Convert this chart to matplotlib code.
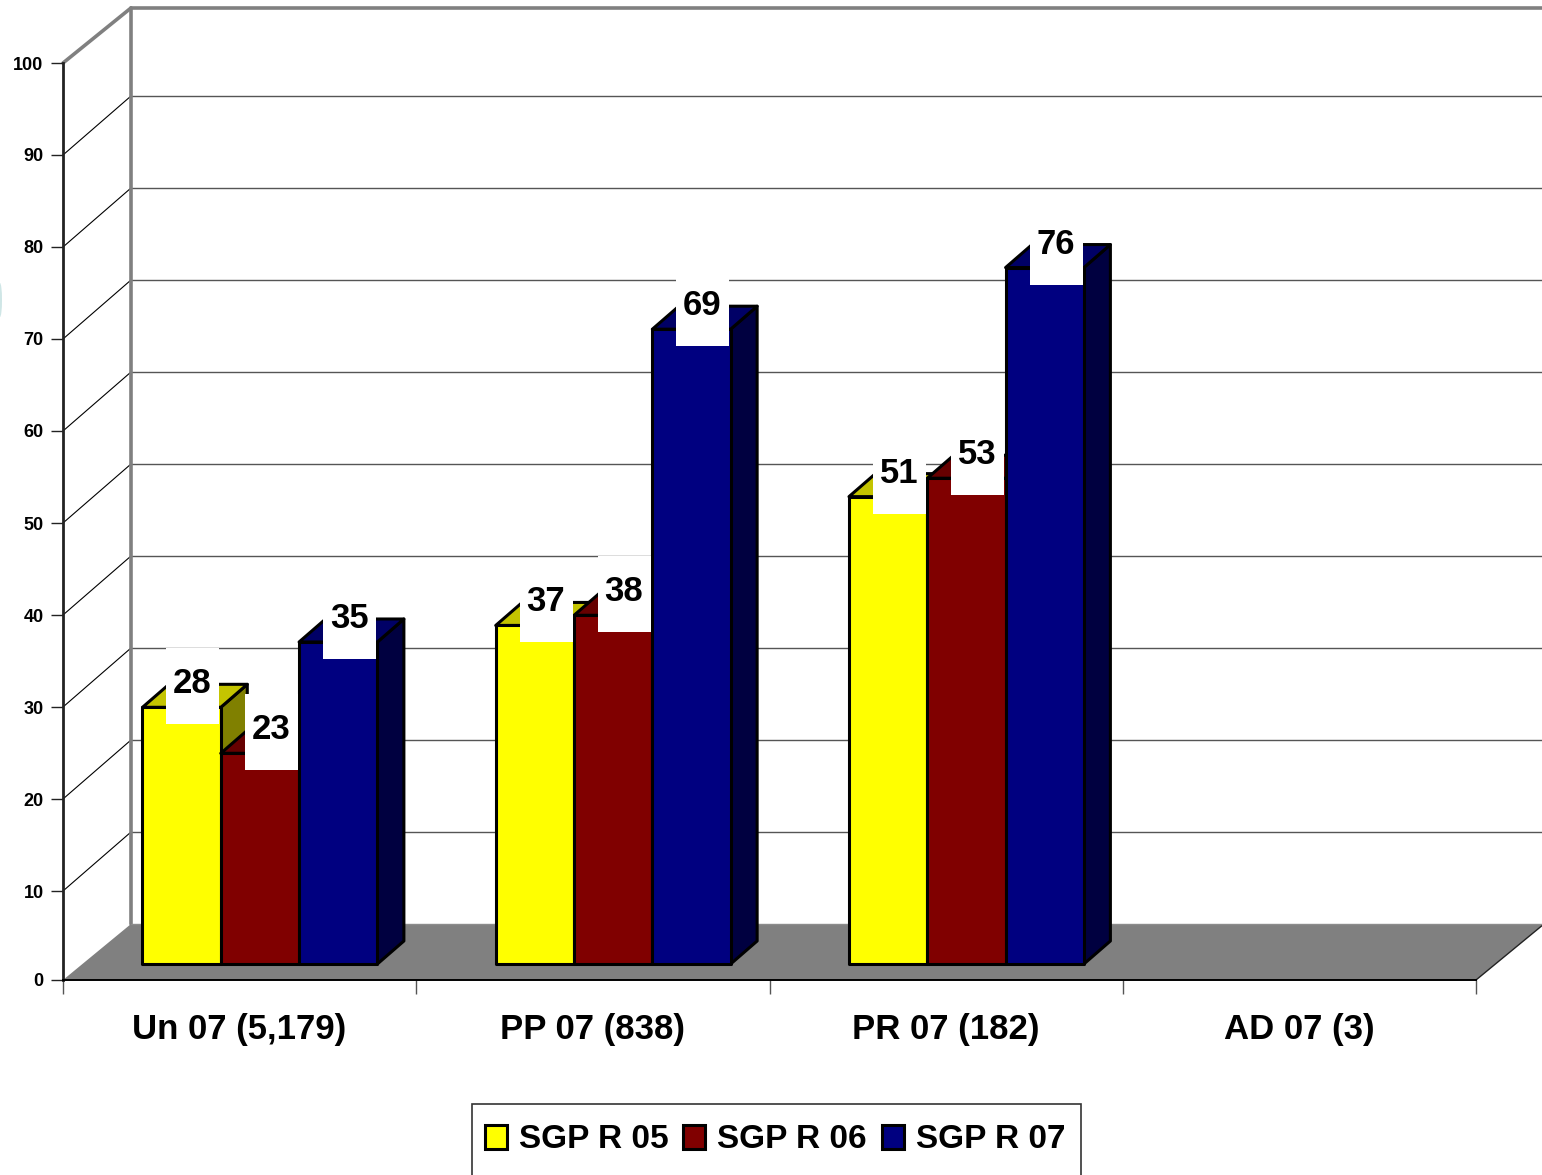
import matplotlib
matplotlib.use("Agg")
import matplotlib.pyplot as plt
from matplotlib.patches import Ellipse, Patch, Polygon, Rectangle

plt.rcParams["font.family"] = ["Liberation Sans", "DejaVu Sans"]
plt.rcParams["font.weight"] = "bold"

categories = ["Un 07 (5,179)", "PP 07 (838)", "PR 07 (182)", "AD 07 (3)"]
series_names = ["SGP R 05", "SGP R 06", "SGP R 07"]
# bar heights as drawn; the labels show them rounded
sgp_r05 = [27.9, 36.8, 50.8, None]
sgp_r06 = [22.9, 37.9, 52.8, None]
sgp_r07 = [35.0, 69.0, 75.7, None]
y_ticks = list(range(0, 101, 10))

face_colors = ["#FFFF00", "#800000", "#000080"]
top_colors = ["#C4C400", "#660000", "#000066"]
side_colors = ["#808000", "#400000", "#000040"]

W, H = 1542, 1175
X0, X1 = 63, 1476
# 100 sits at 63 and 0 would sit at 983, the picture cuts the axis off at 980
Y_ZERO, Y_HUNDRED, Y_CUT = 983, 63, 980
PX_X = (X1 - X0) / 4
PX_Y = (Y_ZERO - Y_HUNDRED) / 100
FLOOR = (Y_ZERO - Y_CUT) / PX_Y
# oblique offset of the back wall, in data units
DX = 68 / PX_X
DY = 59 / PX_Y
BAR_FRONT = 19 / 59
BAR_BACK = 42 / 59
BAR_W = 78.3 / PX_X
GAP = 0.163
EDGE = 2.2
WALL_TOP = 99.57


def project(x, y, d):
    return x + d * DX, y + d * DY


fig = plt.figure(figsize=(W / 100, H / 100), dpi=100)
ax = fig.add_axes([X0 / W, (H - Y_CUT) / H, (X1 - X0) / W, (Y_CUT - Y_HUNDRED) / H])
ax.set_xlim(0, 4)
ax.set_ylim(FLOOR, 100)
ax.patch.set_visible(False)


def poly(points, **kw):
    kw.setdefault("clip_on", False)
    ax.add_patch(Polygon(points, closed=True, **kw))


def line(a, b, **kw):
    ax.plot([a[0], b[0]], [a[1], b[1]], clip_on=False, solid_capstyle="round", **kw)


# floor
poly(
    [project(0, FLOOR, 0), project(0, 0, 1), project(4, 0, 1), project(4, FLOOR, 0)],
    facecolor="#808080",
    edgecolor="none",
    zorder=1,
)
line(project(4, FLOOR, 0), project(4, 0, 1), color="#222222", lw=1.0, zorder=1.5)
line(project(0, 0, 1), project(4, 0, 1), color="#8c8c8c", lw=1.0, zorder=1.5)

# walls
for v in y_ticks[1:-1]:
    line(project(0, v, 0), project(0, v, 1), color="black", lw=0.8, zorder=1)
    line(project(0, v, 1), project(4, v, 1), color="#555555", lw=1.0, zorder=1)
line(project(0, 100, 0), project(0, WALL_TOP, 1), color="#808080", lw=2.6, zorder=1)
line(project(0, WALL_TOP, 1), project(4, WALL_TOP, 1), color="#808080", lw=2.6, zorder=1)
line(project(0, 0, 1), project(0, WALL_TOP, 1), color="#808080", lw=2.6, zorder=1)

# bars
all_series = [sgp_r05, sgp_r06, sgp_r07]
for i in range(len(categories)):
    for j, values in enumerate(all_series):
        v = values[i]
        if v is None:
            continue
        left = i + GAP + j * BAR_W
        right = left + BAR_W
        z = 2 + i + j * 0.1
        style = dict(edgecolor="black", lw=EDGE, joinstyle="round", zorder=z)
        poly(
            [
                project(right, 0, BAR_FRONT),
                project(right, 0, BAR_BACK),
                project(right, v, BAR_BACK),
                project(right, v, BAR_FRONT),
            ],
            facecolor=side_colors[j],
            **style,
        )
        poly(
            [
                project(left, v, BAR_FRONT),
                project(left, v, BAR_BACK),
                project(right, v, BAR_BACK),
                project(right, v, BAR_FRONT),
            ],
            facecolor=top_colors[j],
            **style,
        )
        poly(
            [
                project(left, 0, BAR_FRONT),
                project(left, v, BAR_FRONT),
                project(right, v, BAR_FRONT),
                project(right, 0, BAR_FRONT),
            ],
            facecolor=face_colors[j],
            **style,
        )

# white value labels sit on top of all bars
for i in range(len(categories)):
    for j, values in enumerate(all_series):
        v = values[i]
        if v is None:
            continue
        fx, fy = project(i + GAP + j * BAR_W, v, BAR_FRONT)
        bx = fx + 24 / PX_X
        ax.add_patch(
            Rectangle(
                (bx, fy - 17 / PX_Y),
                53 / PX_X,
                76 / PX_Y,
                facecolor="white",
                edgecolor="none",
                zorder=10,
                clip_on=False,
            )
        )
        ax.text(
            bx + 26 / PX_X,
            fy + 23.5 / PX_Y,
            f"{v:.0f}",
            ha="center",
            va="center",
            fontsize=25,
            zorder=11,
            clip_on=False,
        )

# axes
for name in ["top", "right"]:
    ax.spines[name].set_visible(False)
ax.spines["left"].set_linewidth(2.0)
ax.spines["left"].set_color("#222222")
ax.spines["bottom"].set_linewidth(1.4)
ax.spines["bottom"].set_color("black")
ax.set_yticks([FLOOR] + y_ticks[1:])
ax.set_yticklabels([str(v) for v in y_ticks], fontsize=13, va="center_baseline")
ax.tick_params(axis="y", length=9, width=1.0, color="#222222", pad=5)
ax.set_xticks(range(5))
ax.set_xticklabels([])
ax.tick_params(axis="x", which="major", length=10, width=1.0, color="#555555")
ax.set_xticks([i + 0.5 for i in range(4)], labels=categories, minor=True)
ax.tick_params(axis="x", which="minor", length=0, labelsize=25, pad=23.5)

# legend box runs off the bottom of the picture
fig.add_artist(
    Rectangle(
        (472 / W, -0.02),
        609 / W,
        (H - 1104) / H + 0.02,
        transform=fig.transFigure,
        facecolor="white",
        edgecolor="#333333",
        lw=1.2,
    )
)
handles = [Patch(facecolor=c, edgecolor="black", lw=EDGE) for c in face_colors]
fig.legend(
    handles,
    series_names,
    ncol=3,
    loc="center",
    bbox_to_anchor=(775 / W, (H - 1140) / H),
    bbox_transform=fig.transFigure,
    frameon=False,
    fontsize=24,
    handlelength=0.66,
    handleheight=0.72,
    handletextpad=0.36,
    columnspacing=0.45,
    borderpad=0,
    borderaxespad=0,
)

# faint scrap at the left edge of the source picture
fig.add_artist(
    Ellipse(
        (0, (H - 300) / H),
        4 / W,
        34 / H,
        transform=fig.transFigure,
        facecolor="#CFE6E6",
        edgecolor="none",
    )
)

fig.savefig("out.png", dpi=100)
